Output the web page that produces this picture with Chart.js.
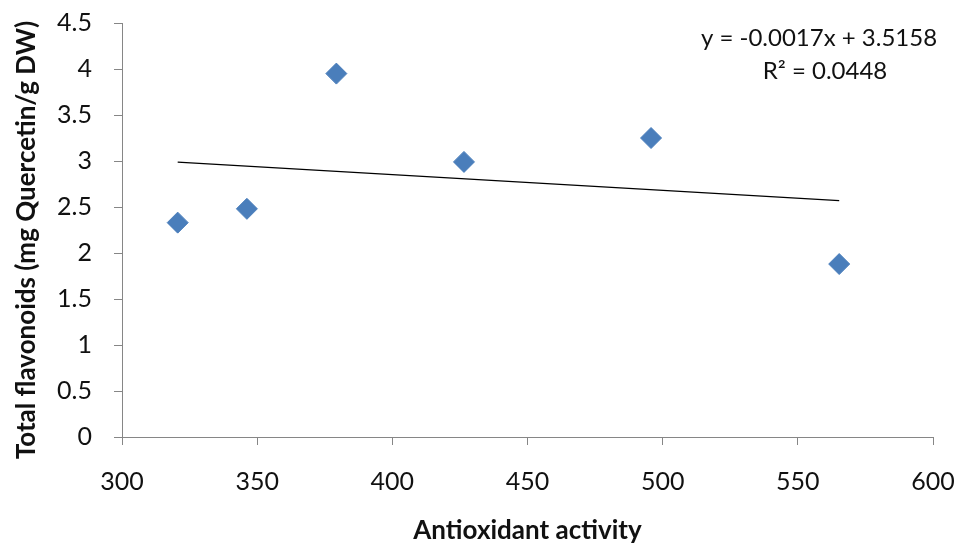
<!DOCTYPE html>
<html>
<head>
<meta charset="utf-8">
<script src="https://cdn.jsdelivr.net/npm/chart.js@4.4.1/dist/chart.umd.min.js"></script>
<style>
  html, body { margin: 0; padding: 0; background: #fff; }
  #wrap { width: 956px; height: 546px; }
</style>
</head>
<body>
<div id="wrap"><canvas id="chart" width="956" height="546"></canvas></div>
<script>
// data
const activity = [320.6, 346.2, 379.3, 426.5, 495.7, 565.3];
const flavonoids = [2.33, 2.48, 3.95, 2.99, 3.25, 1.88];
const xTicks = [300, 350, 400, 450, 500, 550, 600];
const yTicks = [0, 0.5, 1, 1.5, 2, 2.5, 3, 3.5, 4, 4.5];
const equationText = ["y = -0.0017x + 3.5158", "R\u00b2 = 0.0448"];
const yTitle = "Total flavonoids (mg Quercetin/g DW)";

const FONT = "Lato, 'Open Sans', sans-serif";
const AXIS_GREY = "#868686";

// least squares trend line over the points
function trend(xs, ys) {
    const n = xs.length;
    const mx = xs.reduce((a, b) => a + b, 0) / n;
    const my = ys.reduce((a, b) => a + b, 0) / n;
    let sxy = 0, sxx = 0;
    for (let i = 0; i < n; i++) {
        sxy += (xs[i] - mx) * (ys[i] - my);
        sxx += (xs[i] - mx) * (xs[i] - mx);
    }
    const slope = sxy / sxx;
    const icpt = my - slope * mx;
    const x0 = Math.min(...xs), x1 = Math.max(...xs);
    return [{ x: x0, y: slope * x0 + icpt }, { x: x1, y: slope * x1 + icpt }];
}

const points = activity.map((x, i) => ({ x, y: flavonoids[i] }));

// equation label (top right, like Excel) + y title a bit lower than chart.js centers it
const labelsPlugin = {
    id: "labels",
    afterDraw(chart) {
        const ctx = chart.ctx;
        ctx.save();
        ctx.font = "24px " + FONT;
        ctx.fillStyle = "#111";
        ctx.textAlign = "center";
        ctx.textBaseline = "middle";
        ctx.fillText(equationText[0], 819, 38);
        ctx.fillText(equationText[1], 825, 71);

        ctx.translate(27, 240);
        ctx.rotate(-Math.PI / 2);
        ctx.font = "bold 26px " + FONT;
        ctx.fillText(yTitle, 0, 0);
        ctx.restore();
    }
};

new Chart(document.getElementById("chart"), {
    type: "scatter",
    data: {
        datasets: [
            {
                label: "Flavonoids",
                data: points,
                pointStyle: "rectRot",
                pointRadius: 10.5,
                pointHoverRadius: 10.5,
                backgroundColor: "#4a7ebb",
                borderColor: "#4a7ebb",
                borderWidth: 1
            },
            {
                type: "line",
                label: "Linear",
                data: trend(activity, flavonoids),
                borderColor: "#000",
                borderWidth: 1.3,
                pointRadius: 0,
                fill: false
            }
        ]
    },
    options: {
        responsive: false,
        animation: false,
        layout: { padding: { left: 0, top: 23, right: 23, bottom: 0 } },
        plugins: {
            legend: { display: false },
            tooltip: { enabled: false }
        },
        scales: {
            x: {
                type: "linear",
                min: 300,
                max: 600,
                afterBuildTicks: (s) => { s.ticks = xTicks.map(v => ({ value: v })); },
                afterFit: (s) => { s.height = 109; s.paddingLeft = 0; s.paddingRight = 0; },
                grid: { drawOnChartArea: false, drawTicks: true, tickLength: 8, color: AXIS_GREY },
                border: { color: AXIS_GREY, width: 1 },
                ticks: { color: "#111", padding: 22, font: { family: FONT, size: 25 } },
                title: {
                    display: true,
                    text: "Antioxidant activity",
                    color: "#111",
                    padding: { top: 0, bottom: 0 },
                    font: { family: FONT, size: 26, weight: "bold" }
                }
            },
            y: {
                min: 0,
                max: 4.5,
                afterBuildTicks: (s) => { s.ticks = yTicks.map(v => ({ value: v })); },
                afterFit: (s) => { s.width = 122; s.paddingTop = 0; s.paddingBottom = 0; },
                grid: { drawOnChartArea: false, drawTicks: true, tickLength: 8, color: AXIS_GREY },
                border: { color: AXIS_GREY, width: 1 },
                ticks: {
                    color: "#111",
                    padding: 22,
                    font: { family: FONT, size: 25 },
                    callback: (v) => String(v)
                },
                title: { display: false }
            }
        }
    },
    plugins: [labelsPlugin]
});
</script>
</body>
</html>
